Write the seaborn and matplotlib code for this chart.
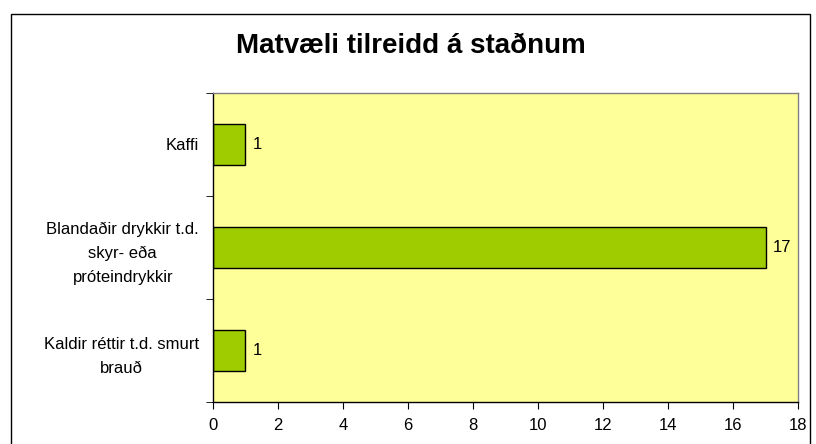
import matplotlib
matplotlib.use("Agg")
import matplotlib.pyplot as plt
import seaborn as sns
import pandas as pd
from matplotlib.patches import Rectangle

# Data
categories = [
    "Kaffi",
    "Blandaðir drykkir t.d.\nskyr- eða\npróteindrykkir",
    "Kaldir réttir t.d. smurt\nbrauð",
]
counts = [1, 17, 1]
x_ticks = list(range(0, 19, 2))

df = pd.DataFrame({"category": categories, "count": counts})

sns.set_style("white")
plt.rcParams["font.family"] = ["Liberation Sans", "DejaVu Sans"]
plt.rcParams["text.color"] = "black"
plt.rcParams["xtick.color"] = "black"
plt.rcParams["ytick.color"] = "black"

fig = plt.figure(figsize=(8.16, 4.44), dpi=100)
ax = fig.add_axes([0.261, 0.095, 0.717, 0.696])

sns.barplot(
    data=df, y="category", x="count", orient="h", order=categories,
    color="#9FCC00", edgecolor="black", linewidth=1.0, width=0.4,
    saturation=1, ax=ax,
)
ax.set_facecolor("#FFFF99")

for spine in ax.spines.values():
    spine.set_visible(True)
    spine.set_color("#808080")
    spine.set_linewidth(1.0)
ax.spines["left"].set_color("black")
ax.spines["bottom"].set_color("black")

ax.set_xlim(0, 18)
ax.set_ylim(2.5, -0.5)
ax.set_xticks(x_ticks)
ax.set_xticklabels([str(t) for t in x_ticks], fontsize=12)

# category labels at centres, tick marks at category boundaries
ax.set_yticks(range(len(categories)))
ax.set_yticklabels(categories, fontsize=12, linespacing=1.75,
                   multialignment="center")
ax.tick_params(axis="y", length=0, pad=10)
ax.set_yticks([-0.5, 0.5, 1.5, 2.5], minor=True)
ax.tick_params(axis="y", which="minor", length=5, direction="out", left=True)
ax.tick_params(axis="x", length=5, direction="out", bottom=True, pad=7)

ax.set_xlabel("")
ax.set_ylabel("")

for i, v in enumerate(counts):
    ax.annotate(str(v), (v, i), xytext=(5, 0), textcoords="offset points",
                va="center", ha="left", fontsize=12)

fig.text(0.503, 0.897, "Matvæli tilreidd á staðnum", ha="center",
         va="center", fontsize=20, fontweight="bold")

# outer chart frame
fig.patches.append(Rectangle((0.013, -0.01), 0.98, 0.978, transform=fig.transFigure,
                             fill=False, edgecolor="black", linewidth=1.0))

fig.savefig("out.png", dpi=100)
